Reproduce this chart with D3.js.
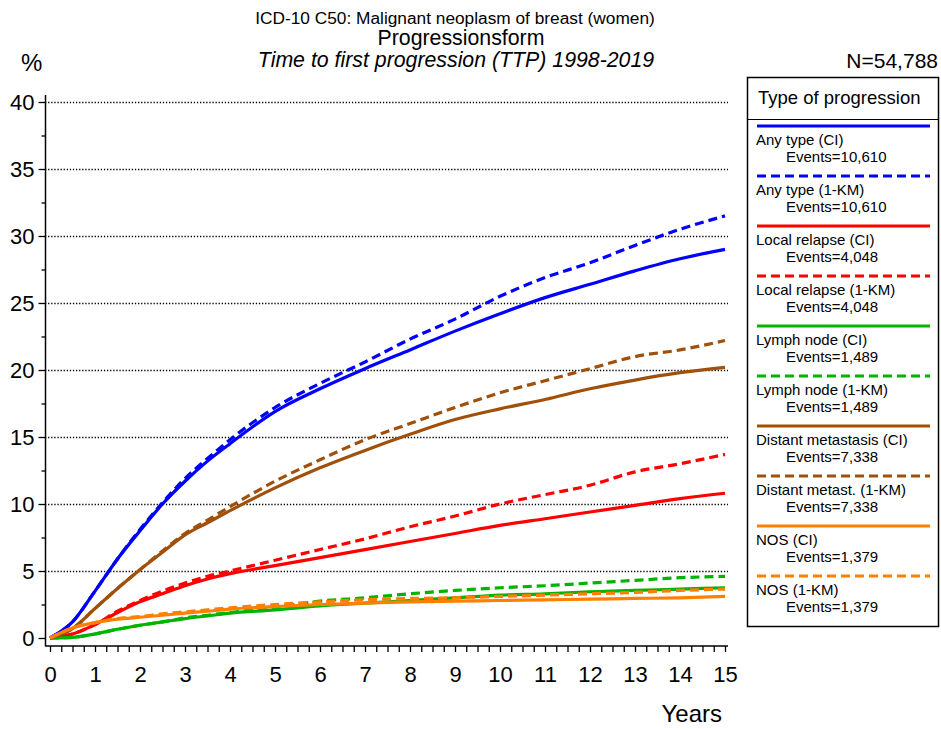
<!DOCTYPE html>
<html><head><meta charset="utf-8">
<script src="https://cdn.jsdelivr.net/npm/d3@7"></script>
<style>
body{margin:0;background:#fff;}
text{font-family:"Liberation Sans",Arial,sans-serif;fill:#000;}
</style></head>
<body><svg id="c" width="941" height="729"></svg>
<script>
// ---- data ----
const years = [0,0.5,1,1.5,2,2.5,3,3.5,4,5,6,7,8,9,10,11,12,13,14,15];
const anyCI   = [0,1.2,3.5,5.9,8.0,10.0,11.7,13.2,14.5,16.9,18.6,20.1,21.5,22.9,24.2,25.4,26.4,27.4,28.3,29.0];
const anyKM   = [0,1.2,3.5,5.9,8.1,10.1,11.9,13.4,14.8,17.2,19.0,20.6,22.3,23.8,25.5,26.9,28.0,29.3,30.5,31.5];
const localCI = [0,0.3,1.0,1.9,2.7,3.3,3.9,4.4,4.8,5.4,6.0,6.6,7.2,7.8,8.4,8.9,9.4,9.9,10.4,10.8];
const localKM = [0,0.3,1.0,2.0,2.8,3.5,4.1,4.6,5.0,5.8,6.6,7.4,8.3,9.1,10.0,10.7,11.4,12.4,13.0,13.7];
const lymphCI = [0,0.05,0.3,0.65,0.95,1.2,1.45,1.65,1.85,2.1,2.4,2.6,2.8,3.0,3.2,3.3,3.45,3.55,3.65,3.75];
const lymphKM = [0,0.05,0.3,0.65,0.95,1.2,1.5,1.7,1.9,2.3,2.75,3.0,3.3,3.55,3.75,3.9,4.1,4.3,4.5,4.6];
const distCI  = [0,0.7,2.2,3.7,5.1,6.4,7.7,8.6,9.5,11.2,12.7,14.0,15.2,16.3,17.1,17.8,18.6,19.25,19.8,20.2];
const distKM  = [0,0.7,2.2,3.7,5.1,6.5,7.8,8.8,9.8,11.7,13.3,14.8,16.0,17.2,18.3,19.2,20.1,21.0,21.5,22.2];
const nosCI   = [0,0.75,1.15,1.4,1.55,1.7,1.85,2.0,2.15,2.35,2.5,2.6,2.7,2.75,2.8,2.85,2.9,2.95,3.0,3.1];
const nosKM   = [0,0.75,1.15,1.45,1.6,1.8,1.95,2.1,2.25,2.5,2.7,2.85,2.95,3.0,3.1,3.2,3.3,3.4,3.55,3.65];

const seriesNames = ["Any type (CI)","Any type (1-KM)","Local relapse (CI)","Local relapse (1-KM)","Lymph node (CI)","Lymph node (1-KM)","Distant metastasis (CI)","Distant metast. (1-KM)","NOS (CI)","NOS (1-KM)"];
const seriesEvents = ["10,610","10,610","4,048","4,048","1,489","1,489","7,338","7,338","1,379","1,379"];
const seriesValues = [anyCI,anyKM,localCI,localKM,lymphCI,lymphKM,distCI,distKM,nosCI,nosKM];
const seriesColors = ["#0000ff","#0000ff","#ff0000","#ff0000","#00b400","#00b400","#a0500a","#a0500a","#ff8000","#ff8000"];
const seriesDashed = [false,true,false,true,false,true,false,true,false,true];

const yTicks = [0,5,10,15,20,25,30,35,40];
const xTicks = d3.range(0,16);

const titleLines = ["ICD-10 C50: Malignant neoplasm of breast (women)","Progressionsform","Time to first progression (TTP) 1998-2019"];

// ---- drawing ----
const svg = d3.select("#c");
const x = d3.scaleLinear().domain([0,15]).range([50,725]);
const y = d3.scaleLinear().domain([0,40]).range([638,102]);

// titles
svg.append("text").attr("x",455).attr("y",24).attr("text-anchor","middle").style("font-size","17.3px").text(titleLines[0]);
svg.append("text").attr("x",461).attr("y",45).attr("text-anchor","middle").style("font-size","21.3px").text(titleLines[1]);
svg.append("text").attr("x",456).attr("y",67).attr("text-anchor","middle").style("font-size","21.3px").style("font-style","italic").text(titleLines[2]);
svg.append("text").attr("x",938).attr("y",68).attr("text-anchor","end").style("font-size","21px").text("N=54,788");
svg.append("text").attr("x",21).attr("y",71).style("font-size","24px").text("%");
svg.append("text").attr("x",722).attr("y",722).attr("text-anchor","end").style("font-size","24px").text("Years");

// gridlines
svg.append("g").selectAll("line").data(yTicks.filter(d=>d>0)).join("line")
  .attr("x1",45).attr("x2",728).attr("y1",d=>Math.round(y(d))+0.5).attr("y2",d=>Math.round(y(d))+0.5)
  .attr("stroke","#000").attr("stroke-width",1.3).attr("stroke-dasharray","1.3,1.8");

// y axis
const yAxis = d3.axisLeft(y).tickValues(yTicks).tickSize(7).tickPadding(4).tickFormat(d3.format("d"));
const gy = svg.append("g").attr("transform","translate(45.5,0)").call(yAxis);
gy.select(".domain").attr("d","M0,95V646").attr("stroke-width",1.5);
gy.selectAll(".tick line").attr("stroke-width",1.3);
gy.selectAll(".tick text").style("font-size","22px").attr("font-family","Liberation Sans, Arial, sans-serif");
const yMinor = d3.axisLeft(y).tickValues(d3.range(2.5,40,5)).tickSize(4).tickFormat("");
const gym = svg.append("g").attr("transform","translate(45.5,0)").call(yMinor);
gym.select(".domain").remove();
gym.selectAll(".tick line").attr("stroke-width",1.3);

// x axis
const xAxis = d3.axisBottom(x).tickValues(xTicks).tickSize(6).tickPadding(14).tickFormat(d3.format("d"));
const gx = svg.append("g").attr("transform","translate(0,646)").call(xAxis);
gx.select(".domain").attr("d","M45,0H728").attr("stroke-width",1.5);
gx.selectAll(".tick line").attr("stroke-width",1.3);
gx.selectAll(".tick text").style("font-size","22px").attr("font-family","Liberation Sans, Arial, sans-serif");
const xMinor = d3.axisBottom(x).tickValues(d3.range(0.25,15,0.25).filter(d=>d%1!==0)).tickSize(6).tickFormat("");
const gxm = svg.append("g").attr("transform","translate(0,646)").call(xMinor);
gxm.select(".domain").remove();
gxm.selectAll(".tick line").attr("stroke-width",1.3);

// curves
const line = d3.line().x((d,i)=>x(years[i])).y(d=>y(d)).curve(d3.curveMonotoneX);
seriesValues.forEach((vals,i)=>{
  svg.append("path").attr("d",line(vals)).attr("fill","none")
    .attr("stroke",seriesColors[i]).attr("stroke-width",3.2)
    .attr("stroke-dasharray",seriesDashed[i]?"9,5":null);
});

// legend
const lg = svg.append("g");
lg.append("rect").attr("x",747.5).attr("y",77.5).attr("width",191).attr("height",549).attr("fill","#fff").attr("stroke","#000").attr("stroke-width",1.5);
lg.append("line").attr("x1",747.5).attr("x2",938.5).attr("y1",119.5).attr("y2",119.5).attr("stroke","#000").attr("stroke-width",1.2);
lg.append("text").attr("x",758).attr("y",104).style("font-size","18.5px").text("Type of progression");
const ly = d3.scaleLinear().domain([0,1]).range([126,176]);
seriesNames.forEach((nm,i)=>{
  const yy = ly(i);
  lg.append("line").attr("x1",757).attr("x2",930).attr("y1",yy).attr("y2",yy)
    .attr("stroke",seriesColors[i]).attr("stroke-width",3)
    .attr("stroke-dasharray",seriesDashed[i]?"9,5":null);
  lg.append("text").attr("x",756).attr("y",yy+18.5).style("font-size","15px").text(nm);
  lg.append("text").attr("x",786).attr("y",yy+35.5).style("font-size","15px").text("Events="+seriesEvents[i]);
});
</script></body></html>
